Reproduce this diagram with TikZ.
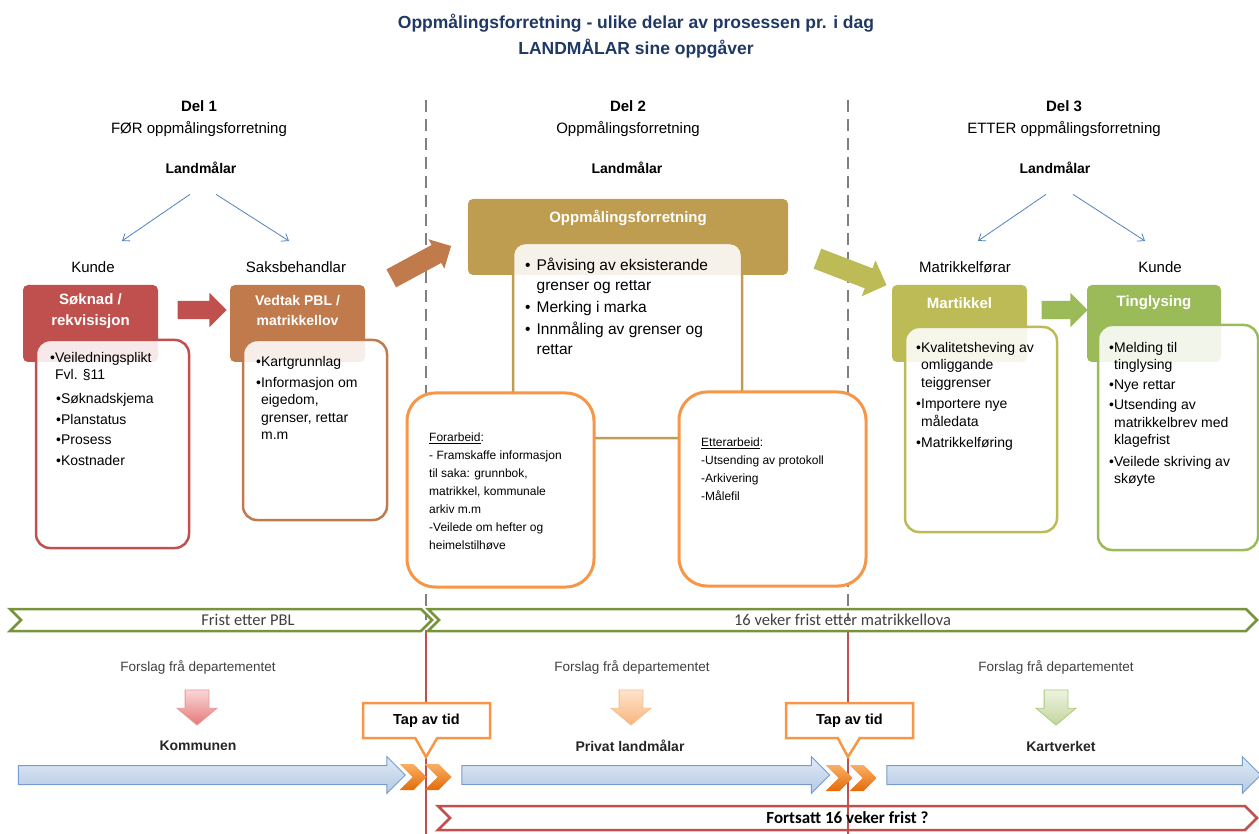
\documentclass[tikz,border=0pt]{standalone}
\usepackage{fontspec}
\setmainfont{Liberation Sans}
\newfontfamily\barfont{Carlito}
\usetikzlibrary{shapes.arrows, shapes.symbols, shapes.callouts, arrows.meta}
\definecolor{titleblue}{RGB}{31,56,100}
\definecolor{soknadred}{RGB}{192,80,77}
\definecolor{vedtakbrown}{RGB}{193,122,76}
\definecolor{oppmgold}{RGB}{190,156,80}
\definecolor{matrolive}{RGB}{189,187,86}
\definecolor{tinggreen}{RGB}{155,187,89}
\definecolor{workorange}{RGB}{247,150,70}
\definecolor{fristgreen}{RGB}{119,147,60}
\definecolor{lineblue}{RGB}{79,129,189}
\definecolor{dashgray}{RGB}{128,128,128}
\definecolor{textgray}{RGB}{64,64,64}
\definecolor{flowtop}{RGB}{224,234,246}
\definecolor{flowbot}{RGB}{180,201,228}
\definecolor{flowline}{RGB}{120,155,205}
\definecolor{chevtop}{RGB}{250,175,100}
\definecolor{chevbot}{RGB}{228,108,10}
\newcommand{\hangi}{\phantom{•}}

\begin{document}
\begin{tikzpicture}[x=1pt, y=-1pt,
    head/.style={rectangle, rounded corners=5pt, minimum width=135pt,
                 minimum height=77pt, inner sep=0pt},
    headtxt/.style={text=white, align=center, font=\bfseries\fontsize{15}{21}\selectfont},
    frame/.style={rectangle, line width=2.5pt, fill=white, fill opacity=0.88,
                  rounded corners=14pt, inner sep=0pt},
    list/.style={anchor=north west, align=left, inner sep=0pt,
                 font=\fontsize{14}{17.5}\selectfont},
    work/.style={rectangle, draw=workorange, line width=3pt, fill=white,
                 rounded corners=28pt, minimum width=187pt, minimum height=194pt},
    worktxt/.style={anchor=north west, align=left, inner sep=0pt,
                    font=\fontsize{12}{18}\selectfont},
    part/.style={align=center, font=\fontsize{15}{22}\selectfont},
    boss/.style={font=\bfseries\fontsize{14}{17}\selectfont},
    role/.style={font=\fontsize{15}{18}\selectfont},
    fork/.style={-{Straight Barb[length=6pt, width=9pt]}, line width=0.8pt, lineblue},
    bigarr/.style={single arrow, single arrow head extend=8pt, single arrow tip angle=90,
                   inner xsep=0pt, inner ysep=9pt},
    frist/.style={signal, signal to=east, signal from=west, draw=fristgreen,
                  line width=2.5pt, minimum height=22pt, inner sep=0pt, text=textgray,
                  font=\barfont\fontsize{16.5}{18}\selectfont},
    forslag/.style={text=textgray, font=\fontsize{13.5}{16}\selectfont},
    drop/.style={single arrow, shape border rotate=270, single arrow head extend=8pt,
                 single arrow tip angle=100, minimum height=35pt, inner sep=11.5pt,
                 line width=0.8pt},
    actor/.style={text=black!85, font=\bfseries\fontsize{14}{17}\selectfont},
    flow/.style={single arrow, single arrow head extend=9pt, single arrow tip angle=90,
                 inner xsep=0pt, inner ysep=9pt, top color=flowtop,
                 bottom color=flowbot, draw=flowline, line width=1pt},
    chev/.style={signal, signal to=east, signal from=west, minimum width=27pt,
                 minimum height=26pt, inner sep=0pt, top color=chevtop, bottom color=chevbot},
    tap/.style={rectangle callout, draw=workorange, line width=2.5pt, fill=white,
                minimum width=127pt, minimum height=35pt, callout pointer width=22pt,
                font=\bfseries\fontsize{14.5}{17}\selectfont}
]
\useasboundingbox (0,0) rectangle (1259,834);

% title
\node[text=titleblue, align=center, font=\bfseries\fontsize{17.5}{26}\selectfont] (title)
    at (636,36) {Oppmålingsforretning - ulike delar av prosessen pr. i dag\\LANDMÅLAR sine oppgåver};

% dividers between the parts
\draw[dashgray, line width=2.5pt, dash pattern=on 12pt off 7pt] (426,100) -- (426,620);
\draw[dashgray, line width=2.5pt, dash pattern=on 12pt off 7pt] (848,100) -- (848,620);
\draw[soknadred, line width=2.5pt] (426,630) -- (426,834);
\draw[soknadred, line width=2.5pt] (848,630) -- (848,834);

% part headings
\node[part] (del1) at (199,119) {\textbf{Del 1}\\FØR oppmålingsforretning};
\node[part] (del2) at (628,119) {\textbf{Del 2}\\Oppmålingsforretning};
\node[part] (del3) at (1064,119) {\textbf{Del 3}\\ETTER oppmålingsforretning};

\node[boss] (land1) at (201,168) {Landmålar};
\node[boss] (land2) at (627,168) {Landmålar};
\node[boss] (land3) at (1055,168) {Landmålar};

\node[role] (kunde1) at (93,267) {Kunde};
\node[role] (sak) at (296,267) {Saksbehandlar};
\node[role] (matrf) at (965,267) {Matrikkelførar};
\node[role] (kunde3) at (1160,267) {Kunde};

\draw[fork] ([xshift=-11pt, yshift=-17pt]land1.south) -- ([xshift=29pt, yshift=17pt]kunde1.north);
\draw[fork] ([xshift=15pt, yshift=-17pt]land1.south) -- ([xshift=-7pt, yshift=17pt]sak.north);
\draw[fork] ([xshift=-9pt, yshift=-17pt]land3.south) -- ([xshift=13pt, yshift=17pt]matrf.north);
\draw[fork] ([xshift=18pt, yshift=-17pt]land3.south) -- ([xshift=-15pt, yshift=17pt]kunde3.north);

% Del 1
\node[head, fill=soknadred] (soknad) at (90.5,323.5) {};
\node[headtxt] (soknadtxt) at (90.5,311) {Søknad /\\rekvisisjon};
\node[frame, draw=soknadred, minimum width=153pt, minimum height=208pt] (soknadbody) at (112.5,444) {};
\node[list] (soknadlist) at (50,352) {•Veiledningsplikt\\
    \hangi Fvl. §11\\[6pt]
    \hspace*{6pt}•Søknadskjema\\[3.5pt]
    \hspace*{6pt}•Planstatus\\[3pt]
    \hspace*{6pt}•Prosess\\[3pt]
    \hspace*{6pt}•Kostnader};

\node[bigarr, fill=soknadred, minimum height=49pt] (arr12) at (197.5,310) {};

\node[head, fill=vedtakbrown] (vedtak) at (297.5,323.5) {};
\node[headtxt, font=\bfseries\fontsize{14}{20}\selectfont] (vedtaktxt) at (297.5,310) {Vedtak PBL /\\matrikkellov};
\node[frame, draw=vedtakbrown, minimum width=144pt, minimum height=180pt] (vedtakbody) at (315,430) {};
\node[list] (vedtaklist) at (256,356) {•Kartgrunnlag\\[3.5pt]
    •Informasjon om\\
    \hangi eigedom,\\
    \hangi grenser, rettar\\
    \hangi m.m};

\node[bigarr, fill=vedtakbrown, rotate=28.4, minimum height=68pt, inner ysep=10pt,
      single arrow head extend=6.5pt] (arrin) at (416.7,264.6) {};

% Del 2
\node[head, fill=oppmgold, minimum width=320pt, minimum height=76pt] (oppm) at (628,237) {};
\node[headtxt] (oppmtxt) at (628,218) {Oppmålingsforretning};
\node[frame, draw=oppmgold, rounded corners=12pt, minimum width=229pt, minimum height=195pt] (oppmbody) at (627.5,340.5) {};
\node[list, font=\fontsize{15.5}{20}\selectfont] (oppmlist) at (525,258) {•\hspace{6pt}Påvising av eksisterande\\
    \phantom{•\hspace{6pt}}grenser og rettar\\[2pt]
    •\hspace{6pt}Merking i marka\\[2pt]
    •\hspace{6pt}Innmåling av grenser og\\
    \phantom{•\hspace{6pt}}rettar};

\node[work] (forarbeid) at (500.5,490) {};
\node[worktxt] (foretxt) at (429,433) {\underline{Forarbeid}:\\
    - Framskaffe informasjon\\
    til saka: grunnbok,\\
    matrikkel, kommunale\\
    arkiv m.m\\
    -Veilede om hefter og\\
    heimelstilhøve};

\node[work] (etterarbeid) at (772.5,489) {};
\node[worktxt] (ettertxt) at (701,438) {\underline{Etterarbeid}:\\
    -Utsending av protokoll\\
    -Arkivering\\
    -Målefil};

\node[bigarr, fill=matrolive, rotate=-21, minimum height=74pt, inner ysep=10.5pt,
      single arrow head extend=8.5pt] (arrout) at (847,270) {};

% Del 3
\node[head, fill=matrolive] (matr) at (959.5,323.5) {};
\node[headtxt] (matrtxt) at (959.5,303) {Martikkel};
\node[frame, draw=matrolive, minimum width=152pt, minimum height=205pt] (matrbody) at (981,429.5) {};
\node[list] (matrlist) at (916,342) {•Kvalitetsheving av\\
    \hangi omliggande\\
    \hangi teiggrenser\\[4pt]
    •Importere nye\\
    \hangi måledata\\[4pt]
    •Matrikkelføring};

\node[bigarr, fill=tinggreen, minimum height=46pt] (arr34) at (1060,310) {};

\node[head, fill=tinggreen, minimum width=134pt] (ting) at (1154,323.5) {};
\node[headtxt] (tingtxt) at (1154,303) {Tinglysing};
\node[frame, draw=tinggreen, minimum width=160pt, minimum height=225pt] (tingbody) at (1178,437.5) {};
\node[list] (tinglist) at (1109,342) {•Melding til\\
    \hangi tinglysing\\[2.5pt]
    •Nye rettar\\[2.5pt]
    •Utsending av\\
    \hangi matrikkelbrev med\\
    \hangi klagefrist\\[4pt]
    •Veilede skriving av\\
    \hangi skøyte};

% deadlines
\node[frist, minimum width=422pt] (pbl) at (221,620) {\hspace*{54pt}Frist etter PBL};
\node[frist, minimum width=829pt] (matrlov) at (842.5,620) {16 veker frist etter matrikkellova};

% proposals from the ministry
\node[forslag] (forslag1) at (198,667) {Forslag frå departementet};
\node[forslag] (forslag2) at (632,667) {Forslag frå departementet};
\node[forslag] (forslag3) at (1056,667) {Forslag frå departementet};

\node[drop, top color={rgb,255:red,250;green,215;blue,215}, bottom color={rgb,255:red,230;green,120;blue,120},
      draw={rgb,255:red,232;green,150;blue,150}] (drop1) at (197,702.5) {};
\node[drop, top color={rgb,255:red,253;green,228;blue,205}, bottom color={rgb,255:red,249;green,180;blue,125},
      draw={rgb,255:red,249;green,190;blue,140}] (drop2) at (631,702.5) {};
\node[drop, top color={rgb,255:red,237;green,243;blue,225}, bottom color={rgb,255:red,195;green,214;blue,155},
      draw={rgb,255:red,170;green,200;blue,120}] (drop3) at (1056,702.5) {};

\node[actor] (kommunen) at (198,746) {Kommunen};
\node[actor] (privat) at (630,746) {Privat landmålar};
\node[actor] (kartverket) at (1061,746) {Kartverket};

\node[flow, minimum height=387pt] (flow1) at (207,775) {};
\node[flow, minimum height=368pt] (flow2) at (641,775) {};
\node[flow, minimum height=374pt] (flow3) at (1069,775) {};

\node[chev] (chev1a) at (413,777) {};
\node[chev] (chev1b) at (438,777) {};
\node[chev] (chev2a) at (839,778) {};
\node[chev] (chev2b) at (863,778) {};

\coordinate (lag1) at (426,757);
\coordinate (lag2) at (848,757);
\node[tap, callout absolute pointer={(lag1)}] (tap1) at (426.5,720.5) {Tap av tid};
\node[tap, callout absolute pointer={(lag2)}] (tap2) at (849.5,720.5) {Tap av tid};

\node[signal, signal to=east, signal from=west, draw=soknadred, line width=2.5pt,
      minimum width=819pt, minimum height=24pt, inner sep=0pt,
      font=\barfont\bfseries\fontsize{17}{19}\selectfont] (fortsatt) at (847.5,818) {Fortsatt 16 veker frist ?};
\end{tikzpicture}
\end{document}
